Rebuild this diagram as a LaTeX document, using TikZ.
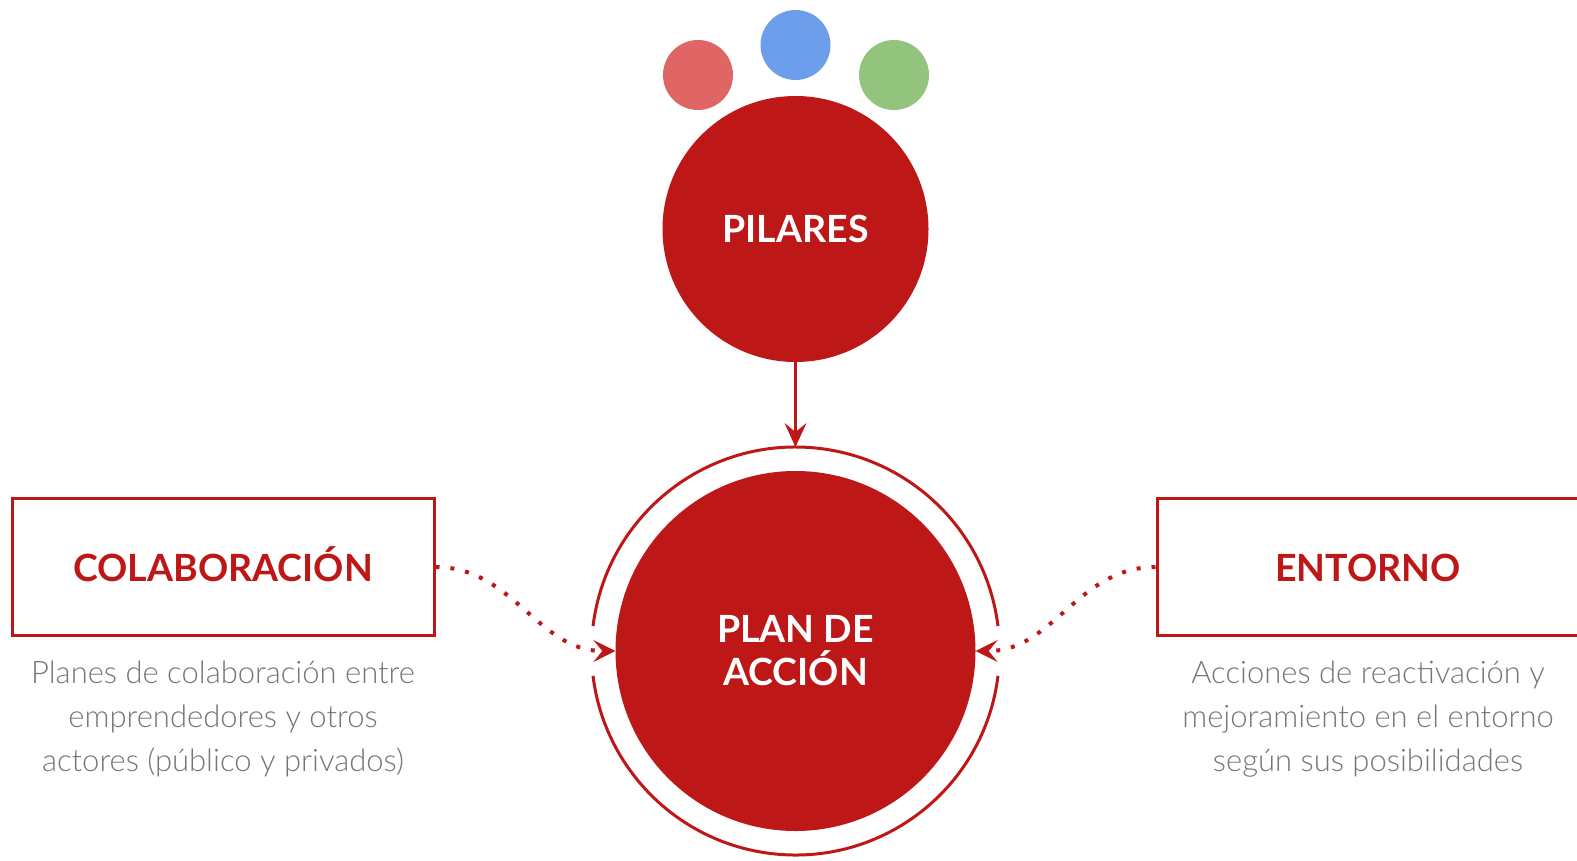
\documentclass[tikz,border=0pt]{standalone}
\usepackage{fontspec}
\setmainfont{Lato}
\newfontfamily\ligera{Lato Light}
\usetikzlibrary{arrows.meta}
\definecolor{rojo}{HTML}{BD1717}
\definecolor{rojoclaro}{HTML}{E06666}
\definecolor{azul}{HTML}{6D9EEB}
\definecolor{verde}{HTML}{93C47D}
\definecolor{gristexto}{HTML}{757575}

\begin{document}
\begin{tikzpicture}[x=1pt,y=-1pt,
	bola/.style={circle, inner sep=0pt, minimum size=70pt},
	titulo/.style={font=\bfseries\fontsize{37.5}{43}\selectfont, text=white, align=center},
	caja/.style={draw=rojo, line width=3pt, minimum width=422pt, minimum height=137pt,
		text height=28pt, text depth=0pt,
		font=\bfseries\fontsize{37.5}{43}\selectfont, text=rojo},
	nota/.style={text=gristexto, font=\ligera\fontsize{31}{44}\selectfont, align=center},
	punteado/.style={rojo, line width=4pt, dash pattern=on 4pt off 11pt,
		-{Stealth[length=22pt, width=22pt, inset=9pt, line width=0pt]}}]
	\useasboundingbox (0,0) rectangle (1577,860);
	
	% pilares y sus tres bolas
	\node[bola, fill=rojoclaro] (b1) at (698,75) {};
	\node[bola, fill=azul] (b2) at (795.5,45) {};
	\node[bola, fill=verde] (b3) at (894,75) {};
	\node[circle, fill=rojo, inner sep=0pt, minimum size=266pt, titulo] (pilares) at (795.5,229) {PILARES};
	
	% plan de accion con su anillo
	\node[circle, fill=rojo, inner sep=0pt, minimum size=360pt, titulo] (plan) at (795.5,651) {PLAN DE\\ACCIÓN};
	\draw[rojo, line width=3pt] (plan.center) ++(7:204) arc (7:173:204);
	\draw[rojo, line width=3pt] (plan.center) ++(187:204) arc (187:353:204);
	\coordinate (aro) at (795.5,447);
	\draw[rojo, line width=3pt, -{Stealth[length=24pt, width=22pt, inset=9pt, line width=0pt]}] (pilares.south) -- (aro);
	
	% cajas laterales
	\node[caja] (colab) at (223,567) {COLABORACIÓN};
	\node[caja] (entorno) at (1368,567) {ENTORNO};
	\node[nota] (notacolab) at (223,719) {Planes de colaboración entre\\emprendedores y otros\\actores (público y privados)};
	\node[nota] (notaentorno) at (1368,719) {Acciones de reactivación y\\mejoramiento en el entorno\\según sus posibilidades};
	
	\draw[punteado] (colab.east) to[out=0, in=180] (plan.west);
	\draw[punteado] (entorno.west) to[out=180, in=0] (plan.east);
\end{tikzpicture}
\end{document}
